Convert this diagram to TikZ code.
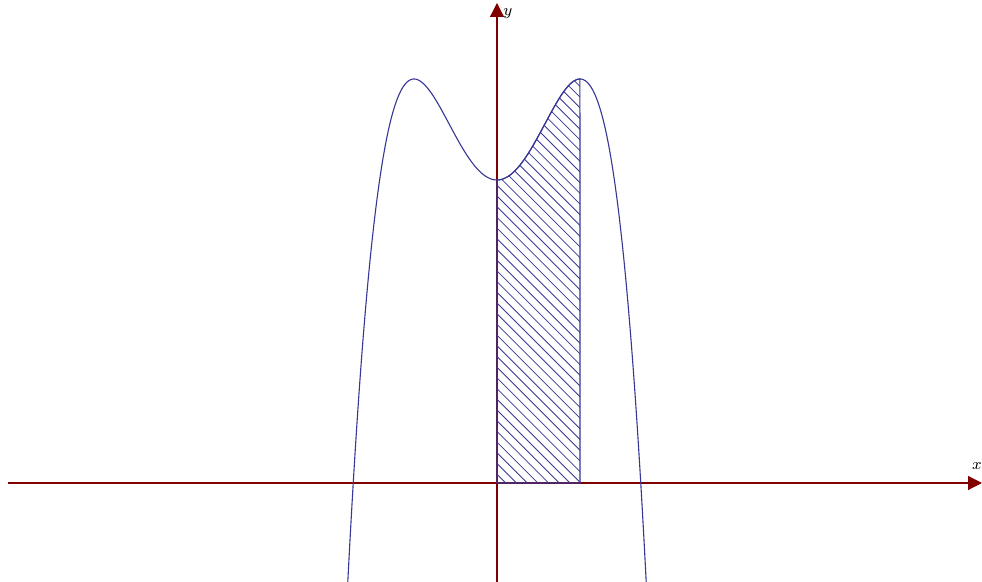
\documentclass[tikz,border=0pt]{standalone}
\usetikzlibrary{arrows.meta}
\definecolor{axred}{RGB}{128,0,0}
\definecolor{curveblue}{RGB}{55,55,150}
\begin{document}
\begin{tikzpicture}[x=0.5pt,y=-0.5pt,
  axisline/.style={draw=axred,line width=0.6pt,-{Triangle[length=7pt,width=7pt]}},
  curveline/.style={draw=curveblue,line width=0.55pt},
  hatchline/.style={draw=curveblue,line width=0.4pt},
  lbl/.style={inner sep=0pt,font=\footnotesize}]
\useasboundingbox (0,0) rectangle (982,582);
\clip (0,0) rectangle (982,582);
\fill[white] (0,0) rectangle (982,582);
% axes
\coordinate (xs) at (8,483);
\coordinate (xe) at (982,483);
\coordinate (ys) at (497,582);
\coordinate (ye) at (497,3);
\draw[axisline] (xs) -- (xe);
\draw[axisline] (ys) -- (ye);
\node[lbl,anchor=west] (ylab) at (503,14) {$y$};
\node[lbl] (xlab) at (977,466) {$x$};
% hatched region
\coordinate (o) at (497,483);
\coordinate (p) at (580,483);
\begin{scope}
\clip (o) -- plot[domain=0:1,samples=80,smooth] ({497+83*\x},{483-101*(3+2*\x*\x-\x*\x*\x*\x)}) -- (p) -- cycle;
\foreach \c in {-20,-9.3,...,520}{
  \draw[hatchline] ({\c+483},483) -- ({\c+483-420},63);
}
\end{scope}
\draw[curveline] (o) -- plot[domain=0:1,samples=80,smooth] ({497+83*\x},{483-101*(3+2*\x*\x-\x*\x*\x*\x)}) -- (p) -- cycle;
% curve
\draw[curveline] plot[domain=-1.81:1.81,samples=240,smooth] ({497+83*\x},{483-101*(3+2*\x*\x-\x*\x*\x*\x)});
\end{tikzpicture}
\end{document}
